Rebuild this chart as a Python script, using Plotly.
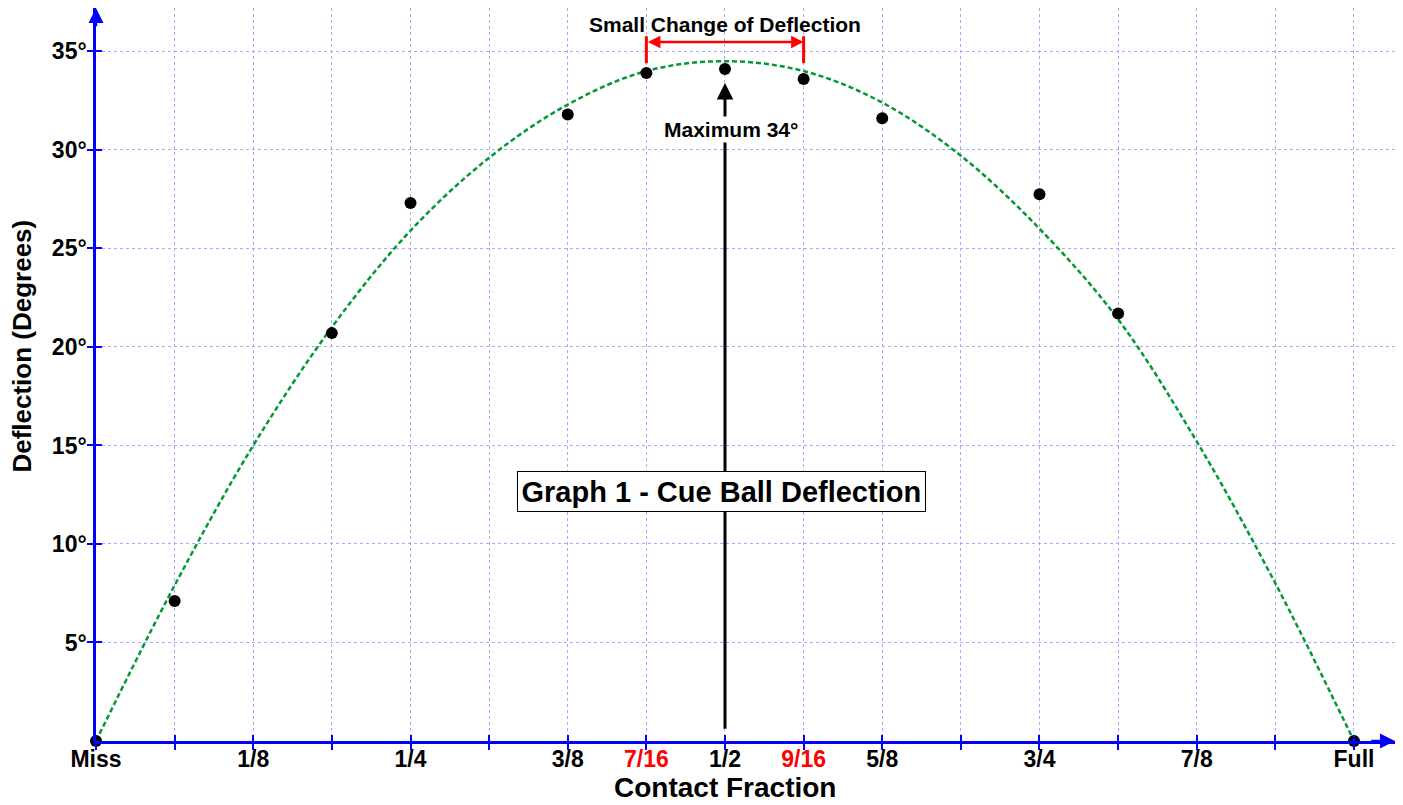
import plotly.graph_objects as go

# ---- data ----
tick_vals = [i / 16 for i in range(17)]
tick_text = ["Miss", "", "1/8", "", "1/4", "", "3/8", "7/16", "1/2", "9/16",
             "5/8", "", "3/4", "", "7/8", "", "Full"]
red_ticks = ["7/16", "9/16"]

y_tick_vals = [5, 10, 15, 20, 25, 30, 35]
y_tick_text = ["5°", "10°", "15°", "20°", "25°", "30°", "35°"]

pts_x = [0, 1/16, 3/16, 1/4, 3/8, 7/16, 1/2, 9/16, 5/8, 3/4, 13/16, 1]
pts_y = [0, 7.1, 20.7, 27.3, 31.8, 33.9, 34.1, 33.6, 31.6, 27.75, 21.7, 0]

curve_x = [i / 16 for i in range(17)]
curve_y = [0, 7.9, 15.0, 21.0, 25.9, 29.6, 32.3, 34.0, 34.5, 34.0, 32.4,
           29.7, 26.0, 21.4, 15.2, 8.0, 0]

x_title = "Contact Fraction"
y_title = "Deflection (Degrees)"
max_x = 0.5
max_label = "Maximum 34°"
bracket_x = [7/16, 9/16]
bracket_label = "Small Change of Deflection"
title_text = "Graph 1 - Cue Ball Deflection"

x_end = 1.0326
y_end = 37.2

FONT = "Liberation Sans, Arial, sans-serif"
BLUE = "#0000ff"
GRID = "#a8a8ff"

ticktext_fmt = [f"<span style='color:#ff0000'>{t}</span>" if t in red_ticks else t
                for t in tick_text]

fig = go.Figure()

fig.add_trace(go.Scatter(x=curve_x, y=curve_y, mode="lines",
                         line=dict(color="#009933", width=2.5, dash="5px,3px", shape="spline"),
                         hoverinfo="skip", showlegend=False, cliponaxis=False))
fig.add_trace(go.Scatter(x=pts_x, y=pts_y, mode="markers",
                         marker=dict(color="black", size=12),
                         showlegend=False, cliponaxis=False))
# invisible traces for crossing-tick overlay axes
fig.add_trace(go.Scatter(x=[0], y=[0], xaxis="x2", yaxis="y", mode="markers",
                         marker=dict(opacity=0), showlegend=False, hoverinfo="skip"))
fig.add_trace(go.Scatter(x=[0], y=[0], xaxis="x", yaxis="y2", mode="markers",
                         marker=dict(opacity=0), showlegend=False, hoverinfo="skip"))

axis_font = dict(family=FONT, size=23, color="black", weight="bold")

fig.update_layout(
    width=1403, height=805,
    margin=dict(l=96, r=8, t=8, b=64),
    paper_bgcolor="white", plot_bgcolor="white",
    font=dict(family=FONT, color="black"),
    xaxis=dict(range=[0, x_end], tickvals=tick_vals, ticktext=ticktext_fmt,
               tickfont=axis_font, showline=True, linecolor=BLUE, linewidth=2.5,
               ticks="outside", ticklen=6, tickwidth=1.5, tickcolor=BLUE,
               ticklabelstandoff=-10, automargin=False,
               showgrid=True, gridcolor=GRID, griddash="dot", gridwidth=1,
               zeroline=False, fixedrange=True),
    yaxis=dict(range=[0, y_end], tickvals=y_tick_vals, ticktext=y_tick_text,
               tickfont=axis_font, showline=True, linecolor=BLUE, linewidth=2.5,
               ticks="outside", ticklen=6, tickwidth=1.5, tickcolor=BLUE,
               ticklabelstandoff=-4, automargin=False,
               showgrid=True, gridcolor=GRID, griddash="dot", gridwidth=1,
               zeroline=False, fixedrange=True),
    xaxis2=dict(overlaying="x", matches="x", anchor="y", side="bottom",
                tickvals=tick_vals, ticks="inside", ticklen=6, tickwidth=1.5,
                tickcolor=BLUE, showticklabels=False, showgrid=False,
                showline=False, zeroline=False, automargin=False),
    yaxis2=dict(overlaying="y", matches="y", anchor="x", side="left",
                tickvals=y_tick_vals, ticks="inside", ticklen=6, tickwidth=1.5,
                tickcolor=BLUE, showticklabels=False, showgrid=False,
                showline=False, zeroline=False, automargin=False),
)

ann = []
# axis titles
ann.append(dict(x=0.5, y=-0.0641, xref="x", yref="paper", text=x_title,
                showarrow=False, xanchor="center", yanchor="middle",
                font=dict(family=FONT, size=28, color="black", weight="bold")))
ann.append(dict(x=-0.0566, y=20.04, xref="paper", yref="y", text=y_title,
                showarrow=False, textangle=-90, xanchor="center", yanchor="middle",
                font=dict(family=FONT, size=26, color="black", weight="bold")))
# axis arrowheads
ann.append(dict(x=x_end, y=0, ax=x_end - 0.02, ay=0, xref="x", yref="y",
                axref="x", ayref="y", text="", showarrow=True, arrowhead=2,
                arrowsize=1.2, arrowwidth=2.5, arrowcolor=BLUE))
ann.append(dict(x=0, y=y_end, ax=0, ay=y_end - 1, xref="x", yref="y",
                axref="x", ayref="y", text="", showarrow=True, arrowhead=2,
                arrowsize=1.2, arrowwidth=2.5, arrowcolor=BLUE))
# maximum arrow
ann.append(dict(x=max_x, y=33.4, ax=max_x, ay=0.55, xref="x", yref="y",
                axref="x", ayref="y", text="", showarrow=True, arrowhead=2,
                arrowsize=1.1, arrowwidth=3, arrowcolor="black"))
ann.append(dict(x=max_x + 0.0048, y=31.05, xref="x", yref="y", text=max_label,
                showarrow=False, bgcolor="white", borderpad=1,
                font=dict(family=FONT, size=21, color="black", weight="bold")))
# title box
ann.append(dict(x=max_x - 0.0029, y=12.68, xref="x", yref="y", text=title_text,
                showarrow=False, bgcolor="white", bordercolor="black",
                borderwidth=1, borderpad=3.5,
                font=dict(family=FONT, size=29, color="black", weight="bold")))
# bracket
ann.append(dict(x=bracket_x[1], y=35.48, ax=bracket_x[0], ay=35.48, xref="x", yref="y",
                axref="x", ayref="y", text="", showarrow=True, arrowhead=2,
                startarrowhead=2, arrowside="end+start", arrowsize=1,
                arrowwidth=2.5, arrowcolor="#ff0000"))
ann.append(dict(x=sum(bracket_x) / 2, y=36.38, xref="x", yref="y", text=bracket_label,
                showarrow=False, yanchor="middle",
                font=dict(family=FONT, size=21, color="black", weight="bold")))
fig.update_layout(annotations=ann)

for bx in bracket_x:
    fig.add_shape(type="line", x0=bx, x1=bx, y0=34.4, y1=35.77, xref="x", yref="y",
                  line=dict(color="#ff0000", width=3))

fig.write_html("out.html", config={"displayModeBar": False},
               post_script="document.body.style.margin='0';document.body.style.overflow='hidden';")
